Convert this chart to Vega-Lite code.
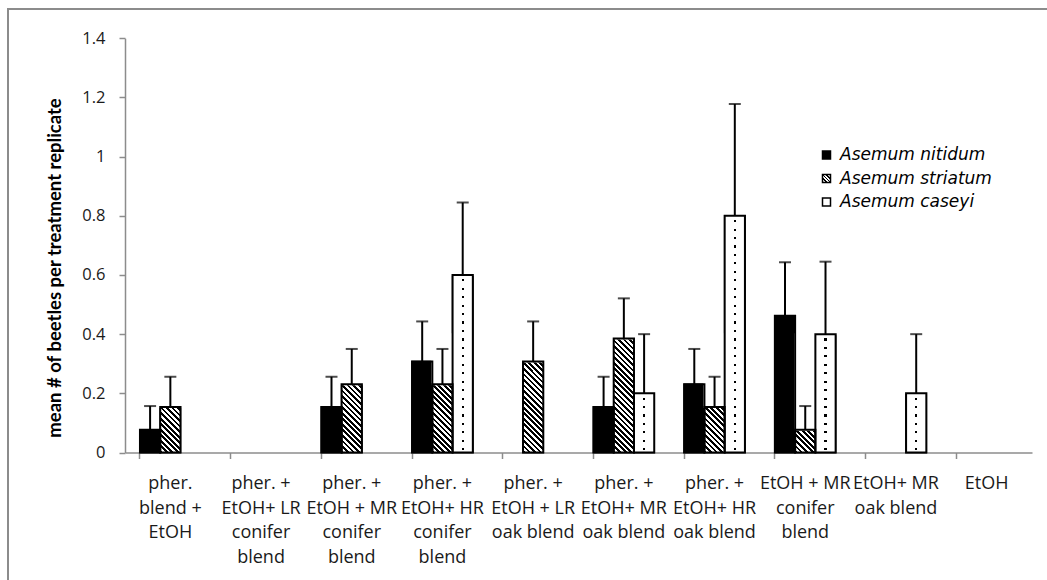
{
  "$schema": "https://vega.github.io/schema/vega-lite/v6.json",
  "width": 1051,
  "height": 583,
  "autosize": "none",
  "padding": {"left": 8, "top": 9, "right": -12, "bottom": -12},
  "background": "white",
  "config": {
    "font": "Open Sans",
    "view": {"stroke": "#8c8c8c", "strokeWidth": 2},
    "legend": {"orient": "none"}
  },
  "data": {
    "values": [
      {"cat": "pher.\nblend +\nEtOH", "species": "Asemum nitidum", "value": 0.077, "upper": 0.157},
      {"cat": "pher.\nblend +\nEtOH", "species": "Asemum striatum", "value": 0.154, "upper": 0.256},
      {"cat": "pher.\nblend +\nEtOH", "species": "Asemum caseyi", "value": 0, "upper": 0},
      {"cat": "pher. +\nEtOH+ LR\nconifer\nblend", "species": "Asemum nitidum", "value": 0, "upper": 0},
      {"cat": "pher. +\nEtOH+ LR\nconifer\nblend", "species": "Asemum striatum", "value": 0, "upper": 0},
      {"cat": "pher. +\nEtOH+ LR\nconifer\nblend", "species": "Asemum caseyi", "value": 0, "upper": 0},
      {"cat": "pher. +\nEtOH + MR\nconifer\nblend", "species": "Asemum nitidum", "value": 0.154, "upper": 0.256},
      {"cat": "pher. +\nEtOH + MR\nconifer\nblend", "species": "Asemum striatum", "value": 0.231, "upper": 0.35},
      {"cat": "pher. +\nEtOH + MR\nconifer\nblend", "species": "Asemum caseyi", "value": 0, "upper": 0},
      {"cat": "pher. +\nEtOH+ HR\nconifer\nblend", "species": "Asemum nitidum", "value": 0.308, "upper": 0.443},
      {"cat": "pher. +\nEtOH+ HR\nconifer\nblend", "species": "Asemum striatum", "value": 0.231, "upper": 0.35},
      {"cat": "pher. +\nEtOH+ HR\nconifer\nblend", "species": "Asemum caseyi", "value": 0.6, "upper": 0.845},
      {"cat": "pher. +\nEtOH + LR\noak blend", "species": "Asemum nitidum", "value": 0, "upper": 0},
      {"cat": "pher. +\nEtOH + LR\noak blend", "species": "Asemum striatum", "value": 0.308, "upper": 0.443},
      {"cat": "pher. +\nEtOH + LR\noak blend", "species": "Asemum caseyi", "value": 0, "upper": 0},
      {"cat": "pher. +\nEtOH+ MR\noak blend", "species": "Asemum nitidum", "value": 0.154, "upper": 0.256},
      {"cat": "pher. +\nEtOH+ MR\noak blend", "species": "Asemum striatum", "value": 0.385, "upper": 0.521},
      {"cat": "pher. +\nEtOH+ MR\noak blend", "species": "Asemum caseyi", "value": 0.2, "upper": 0.4},
      {"cat": "pher. +\nEtOH+ HR\noak blend", "species": "Asemum nitidum", "value": 0.231, "upper": 0.35},
      {"cat": "pher. +\nEtOH+ HR\noak blend", "species": "Asemum striatum", "value": 0.154, "upper": 0.256},
      {"cat": "pher. +\nEtOH+ HR\noak blend", "species": "Asemum caseyi", "value": 0.8, "upper": 1.178},
      {"cat": "EtOH + MR\nconifer\nblend", "species": "Asemum nitidum", "value": 0.462, "upper": 0.643},
      {"cat": "EtOH + MR\nconifer\nblend", "species": "Asemum striatum", "value": 0.077, "upper": 0.157},
      {"cat": "EtOH + MR\nconifer\nblend", "species": "Asemum caseyi", "value": 0.4, "upper": 0.645},
      {"cat": "EtOH+ MR\noak blend", "species": "Asemum nitidum", "value": 0, "upper": 0},
      {"cat": "EtOH+ MR\noak blend", "species": "Asemum striatum", "value": 0, "upper": 0},
      {"cat": "EtOH+ MR\noak blend", "species": "Asemum caseyi", "value": 0.2, "upper": 0.4},
      {"cat": "EtOH", "species": "Asemum nitidum", "value": 0, "upper": 0},
      {"cat": "EtOH", "species": "Asemum striatum", "value": 0, "upper": 0},
      {"cat": "EtOH", "species": "Asemum caseyi", "value": 0, "upper": 0}
    ]
  },
  "encoding": {
    "x": {
      "field": "cat",
      "type": "nominal",
      "sort": null,
      "scale": {
        "domain": ["pher.\nblend +\nEtOH", "pher. +\nEtOH+ LR\nconifer\nblend", "pher. +\nEtOH + MR\nconifer\nblend", "pher. +\nEtOH+ HR\nconifer\nblend", "pher. +\nEtOH + LR\noak blend", "pher. +\nEtOH+ MR\noak blend", "pher. +\nEtOH+ HR\noak blend", "EtOH + MR\nconifer\nblend", "EtOH+ MR\noak blend", "EtOH"],
        "range": [117, 1024],
        "paddingInner": 0.33,
        "paddingOuter": 0.165
      },
      "axis": {
        "title": null,
        "offset": -139.5,
        "bandPosition": 0,
        "labelAngle": 0,
        "labelAlign": "center",
        "labelBaseline": "top",
        "labelExpr": "split(datum.label, '\\n')",
        "labelFont": "Open Sans",
        "labelFontSize": 18,
        "labelLineHeight": 24.5,
        "labelColor": "#1a1a1a",
        "labelPadding": 16,
        "labelOverlap": false,
        "labelBound": false,
        "labelFlush": false,
        "domainColor": "#8c8c8c",
        "domainWidth": 1.5,
        "tickColor": "#8c8c8c",
        "tickWidth": 1.5,
        "tickSize": 6,
        "grid": false
      }
    },
    "xOffset": {
      "field": "species",
      "type": "nominal",
      "sort": null,
      "scale": {"domain": ["Asemum nitidum", "Asemum striatum", "Asemum caseyi"]}
    }
  },
  "layer": [
    {
      "transform": [{"filter": "datum.value > 0"}],
      "mark": {"type": "bar", "stroke": "black", "strokeWidth": 1.5},
      "encoding": {
        "y": {
          "field": "value",
          "type": "quantitative",
          "title": "mean # of beetles per treatment replicate",
          "scale": {"domain": [0, 1.4], "range": [443.5, 29.3], "nice": false},
          "axis": {
            "offset": -117,
            "values": [0, 0.2, 0.4, 0.6, 0.8, 1, 1.2, 1.4],
            "format": "~g",
            "labelFont": "Open Sans",
            "labelFontSize": 16.5,
            "labelColor": "#1a1a1a",
            "labelPadding": 14,
            "domainColor": "#8c8c8c",
            "domainWidth": 1.5,
            "tickColor": "#8c8c8c",
            "tickWidth": 1.5,
            "tickSize": 6,
            "grid": false,
            "titleFont": "Lato",
            "titleFontSize": 18.5,
            "titleFontWeight": "bold",
            "titleColor": "black",
            "titleAngle": 270,
            "titleAlign": "center",
            "titleBaseline": "middle",
            "titleX": -71,
            "titleY": 258.5
          }
        },
        "color": {
          "field": "species",
          "type": "nominal",
          "sort": null,
          "scale": {
            "domain": ["Asemum nitidum", "Asemum striatum", "Asemum caseyi"],
            "range": [
              "black",
              {"expr": "{gradient: 'linear', x1: 0, y1: 1, x2: 1, y2: 0, stops: [{offset: 0, color: 'white'}, {offset: 0.2, color: 'white'}, {offset: 0.2, color: 'black'}, {offset: 0.33, color: 'black'}, {offset: 0.33, color: 'white'}, {offset: 0.44, color: 'white'}, {offset: 0.44, color: 'black'}, {offset: 0.56, color: 'black'}, {offset: 0.56, color: 'white'}, {offset: 0.67, color: 'white'}, {offset: 0.67, color: 'black'}, {offset: 0.8, color: 'black'}, {offset: 0.8, color: 'white'}, {offset: 1, color: 'white'}]}"},
              "white"
            ]
          },
          "legend": {
            "title": null,
            "orient": "none",
            "legendX": 810,
            "legendY": 137.5,
            "padding": 0,
            "symbolType": "square",
            "symbolSize": 64,
            "symbolStrokeColor": "black",
            "symbolStrokeWidth": 1.5,
            "labelFont": "DejaVu Sans",
            "labelFontSize": 17,
            "labelFontStyle": "italic",
            "labelColor": "black",
            "labelOffset": 5,
            "rowPadding": 5.5
          }
        }
      }
    },
    {
      "transform": [{"filter": "datum.species === 'Asemum striatum' && datum.value > 0"}],
      "mark": {
        "type": "bar",
        "fill": {
          "gradient": "linear", "x1": 0, "y1": 1, "x2": 0.1949, "y2": -0.1379,
          "stops": [
            {"offset": 0, "color": "#000"}, {"offset": 0.02, "color": "#000"}, {"offset": 0.02, "color": "#fff"}, {"offset": 0.04, "color": "#fff"},
            {"offset": 0.04, "color": "#000"}, {"offset": 0.06, "color": "#000"}, {"offset": 0.06, "color": "#fff"}, {"offset": 0.08, "color": "#fff"},
            {"offset": 0.08, "color": "#000"}, {"offset": 0.1, "color": "#000"}, {"offset": 0.1, "color": "#fff"}, {"offset": 0.12, "color": "#fff"},
            {"offset": 0.12, "color": "#000"}, {"offset": 0.14, "color": "#000"}, {"offset": 0.14, "color": "#fff"}, {"offset": 0.16, "color": "#fff"},
            {"offset": 0.16, "color": "#000"}, {"offset": 0.18, "color": "#000"}, {"offset": 0.18, "color": "#fff"}, {"offset": 0.2, "color": "#fff"},
            {"offset": 0.2, "color": "#000"}, {"offset": 0.22, "color": "#000"}, {"offset": 0.22, "color": "#fff"}, {"offset": 0.24, "color": "#fff"},
            {"offset": 0.24, "color": "#000"}, {"offset": 0.26, "color": "#000"}, {"offset": 0.26, "color": "#fff"}, {"offset": 0.28, "color": "#fff"},
            {"offset": 0.28, "color": "#000"}, {"offset": 0.3, "color": "#000"}, {"offset": 0.3, "color": "#fff"}, {"offset": 0.32, "color": "#fff"},
            {"offset": 0.32, "color": "#000"}, {"offset": 0.34, "color": "#000"}, {"offset": 0.34, "color": "#fff"}, {"offset": 0.36, "color": "#fff"},
            {"offset": 0.36, "color": "#000"}, {"offset": 0.38, "color": "#000"}, {"offset": 0.38, "color": "#fff"}, {"offset": 0.4, "color": "#fff"},
            {"offset": 0.4, "color": "#000"}, {"offset": 0.42, "color": "#000"}, {"offset": 0.42, "color": "#fff"}, {"offset": 0.44, "color": "#fff"},
            {"offset": 0.44, "color": "#000"}, {"offset": 0.46, "color": "#000"}, {"offset": 0.46, "color": "#fff"}, {"offset": 0.48, "color": "#fff"},
            {"offset": 0.48, "color": "#000"}, {"offset": 0.5, "color": "#000"}, {"offset": 0.5, "color": "#fff"}, {"offset": 0.52, "color": "#fff"},
            {"offset": 0.52, "color": "#000"}, {"offset": 0.54, "color": "#000"}, {"offset": 0.54, "color": "#fff"}, {"offset": 0.56, "color": "#fff"},
            {"offset": 0.56, "color": "#000"}, {"offset": 0.58, "color": "#000"}, {"offset": 0.58, "color": "#fff"}, {"offset": 0.6, "color": "#fff"},
            {"offset": 0.6, "color": "#000"}, {"offset": 0.62, "color": "#000"}, {"offset": 0.62, "color": "#fff"}, {"offset": 0.64, "color": "#fff"},
            {"offset": 0.64, "color": "#000"}, {"offset": 0.66, "color": "#000"}, {"offset": 0.66, "color": "#fff"}, {"offset": 0.68, "color": "#fff"},
            {"offset": 0.68, "color": "#000"}, {"offset": 0.7, "color": "#000"}, {"offset": 0.7, "color": "#fff"}, {"offset": 0.72, "color": "#fff"},
            {"offset": 0.72, "color": "#000"}, {"offset": 0.74, "color": "#000"}, {"offset": 0.74, "color": "#fff"}, {"offset": 0.76, "color": "#fff"},
            {"offset": 0.76, "color": "#000"}, {"offset": 0.78, "color": "#000"}, {"offset": 0.78, "color": "#fff"}, {"offset": 0.8, "color": "#fff"},
            {"offset": 0.8, "color": "#000"}, {"offset": 0.82, "color": "#000"}, {"offset": 0.82, "color": "#fff"}, {"offset": 0.84, "color": "#fff"},
            {"offset": 0.84, "color": "#000"}, {"offset": 0.86, "color": "#000"}, {"offset": 0.86, "color": "#fff"}, {"offset": 0.88, "color": "#fff"},
            {"offset": 0.88, "color": "#000"}, {"offset": 0.9, "color": "#000"}, {"offset": 0.9, "color": "#fff"}, {"offset": 0.92, "color": "#fff"},
            {"offset": 0.92, "color": "#000"}, {"offset": 0.94, "color": "#000"}, {"offset": 0.94, "color": "#fff"}, {"offset": 0.96, "color": "#fff"},
            {"offset": 0.96, "color": "#000"}, {"offset": 0.98, "color": "#000"}, {"offset": 0.98, "color": "#fff"}, {"offset": 1, "color": "#fff"}
          ]
        }
      },
      "encoding": {
        "y": {"datum": 0.4, "type": "quantitative", "title": "mean # of beetles per treatment replicate"},
        "y2": {"datum": 0}
      }
    },
    {
      "transform": [{"filter": "datum.species === 'Asemum caseyi' && datum.value > 0"}],
      "mark": {
        "type": "bar",
        "fill": {
          "gradient": "linear", "x1": 0, "y1": 0, "x2": 0, "y2": 1,
          "stops": [
            {"offset": 0, "color": "#fff"},
            {"offset": 0.0179, "color": "#fff"}, {"offset": 0.0179, "color": "#000"}, {"offset": 0.0269, "color": "#000"}, {"offset": 0.0269, "color": "#fff"},
            {"offset": 0.0536, "color": "#fff"}, {"offset": 0.0536, "color": "#000"}, {"offset": 0.0626, "color": "#000"}, {"offset": 0.0626, "color": "#fff"},
            {"offset": 0.0893, "color": "#fff"}, {"offset": 0.0893, "color": "#000"}, {"offset": 0.0983, "color": "#000"}, {"offset": 0.0983, "color": "#fff"},
            {"offset": 0.125, "color": "#fff"}, {"offset": 0.125, "color": "#000"}, {"offset": 0.134, "color": "#000"}, {"offset": 0.134, "color": "#fff"},
            {"offset": 0.1607, "color": "#fff"}, {"offset": 0.1607, "color": "#000"}, {"offset": 0.1697, "color": "#000"}, {"offset": 0.1697, "color": "#fff"},
            {"offset": 0.1964, "color": "#fff"}, {"offset": 0.1964, "color": "#000"}, {"offset": 0.2054, "color": "#000"}, {"offset": 0.2054, "color": "#fff"},
            {"offset": 0.2321, "color": "#fff"}, {"offset": 0.2321, "color": "#000"}, {"offset": 0.2411, "color": "#000"}, {"offset": 0.2411, "color": "#fff"},
            {"offset": 0.2679, "color": "#fff"}, {"offset": 0.2679, "color": "#000"}, {"offset": 0.2769, "color": "#000"}, {"offset": 0.2769, "color": "#fff"},
            {"offset": 0.3036, "color": "#fff"}, {"offset": 0.3036, "color": "#000"}, {"offset": 0.3126, "color": "#000"}, {"offset": 0.3126, "color": "#fff"},
            {"offset": 0.3393, "color": "#fff"}, {"offset": 0.3393, "color": "#000"}, {"offset": 0.3483, "color": "#000"}, {"offset": 0.3483, "color": "#fff"},
            {"offset": 0.375, "color": "#fff"}, {"offset": 0.375, "color": "#000"}, {"offset": 0.384, "color": "#000"}, {"offset": 0.384, "color": "#fff"},
            {"offset": 0.4107, "color": "#fff"}, {"offset": 0.4107, "color": "#000"}, {"offset": 0.4197, "color": "#000"}, {"offset": 0.4197, "color": "#fff"},
            {"offset": 0.4464, "color": "#fff"}, {"offset": 0.4464, "color": "#000"}, {"offset": 0.4554, "color": "#000"}, {"offset": 0.4554, "color": "#fff"},
            {"offset": 0.4821, "color": "#fff"}, {"offset": 0.4821, "color": "#000"}, {"offset": 0.4911, "color": "#000"}, {"offset": 0.4911, "color": "#fff"},
            {"offset": 0.5179, "color": "#fff"}, {"offset": 0.5179, "color": "#000"}, {"offset": 0.5269, "color": "#000"}, {"offset": 0.5269, "color": "#fff"},
            {"offset": 0.5536, "color": "#fff"}, {"offset": 0.5536, "color": "#000"}, {"offset": 0.5626, "color": "#000"}, {"offset": 0.5626, "color": "#fff"},
            {"offset": 0.5893, "color": "#fff"}, {"offset": 0.5893, "color": "#000"}, {"offset": 0.5983, "color": "#000"}, {"offset": 0.5983, "color": "#fff"},
            {"offset": 0.625, "color": "#fff"}, {"offset": 0.625, "color": "#000"}, {"offset": 0.634, "color": "#000"}, {"offset": 0.634, "color": "#fff"},
            {"offset": 0.6607, "color": "#fff"}, {"offset": 0.6607, "color": "#000"}, {"offset": 0.6697, "color": "#000"}, {"offset": 0.6697, "color": "#fff"},
            {"offset": 0.6964, "color": "#fff"}, {"offset": 0.6964, "color": "#000"}, {"offset": 0.7054, "color": "#000"}, {"offset": 0.7054, "color": "#fff"},
            {"offset": 0.7321, "color": "#fff"}, {"offset": 0.7321, "color": "#000"}, {"offset": 0.7411, "color": "#000"}, {"offset": 0.7411, "color": "#fff"},
            {"offset": 0.7679, "color": "#fff"}, {"offset": 0.7679, "color": "#000"}, {"offset": 0.7769, "color": "#000"}, {"offset": 0.7769, "color": "#fff"},
            {"offset": 0.8036, "color": "#fff"}, {"offset": 0.8036, "color": "#000"}, {"offset": 0.8126, "color": "#000"}, {"offset": 0.8126, "color": "#fff"},
            {"offset": 0.8393, "color": "#fff"}, {"offset": 0.8393, "color": "#000"}, {"offset": 0.8483, "color": "#000"}, {"offset": 0.8483, "color": "#fff"},
            {"offset": 0.875, "color": "#fff"}, {"offset": 0.875, "color": "#000"}, {"offset": 0.884, "color": "#000"}, {"offset": 0.884, "color": "#fff"},
            {"offset": 0.9107, "color": "#fff"}, {"offset": 0.9107, "color": "#000"}, {"offset": 0.9197, "color": "#000"}, {"offset": 0.9197, "color": "#fff"},
            {"offset": 0.9464, "color": "#fff"}, {"offset": 0.9464, "color": "#000"}, {"offset": 0.9554, "color": "#000"}, {"offset": 0.9554, "color": "#fff"},
            {"offset": 0.9821, "color": "#fff"}, {"offset": 0.9821, "color": "#000"}, {"offset": 0.9911, "color": "#000"}, {"offset": 0.9911, "color": "#fff"},
            {"offset": 1, "color": "#fff"}
          ]
        }
      },
      "encoding": {
        "y": {"datum": 0.8, "type": "quantitative", "title": "mean # of beetles per treatment replicate"},
        "y2": {"datum": 0}
      }
    },
    {
      "transform": [{"filter": "datum.species === 'Asemum caseyi' && datum.value > 0"}],
      "mark": {
        "type": "bar",
        "fill": {
          "gradient": "linear", "x1": 0, "y1": 0, "x2": 1, "y2": 0,
          "stops": [
            {"offset": 0, "color": "#fff"}, {"offset": 0.45, "color": "#fff"},
            {"offset": 0.45, "color": "rgba(255,255,255,0)"}, {"offset": 0.55, "color": "rgba(255,255,255,0)"},
            {"offset": 0.55, "color": "#fff"}, {"offset": 1, "color": "#fff"}
          ]
        }
      },
      "encoding": {
        "y": {"datum": 0.8, "type": "quantitative", "title": "mean # of beetles per treatment replicate"},
        "y2": {"datum": 0}
      }
    },
    {
      "transform": [{"filter": "datum.species === 'Asemum striatum' && datum.value > 0"}],
      "mark": {"type": "bar", "fill": "white", "stroke": "white", "strokeWidth": 2},
      "encoding": {
        "y": {"field": "value", "type": "quantitative", "title": "mean # of beetles per treatment replicate"},
        "y2": {"datum": 0.4}
      }
    },
    {
      "transform": [{"filter": "datum.species === 'Asemum caseyi' && datum.value > 0"}],
      "mark": {"type": "bar", "fill": "white", "stroke": "white", "strokeWidth": 2},
      "encoding": {
        "y": {"field": "value", "type": "quantitative", "title": "mean # of beetles per treatment replicate"},
        "y2": {"datum": 0.8}
      }
    },
    {
      "transform": [{"filter": "datum.value > 0"}],
      "mark": {"type": "bar", "fillOpacity": 0, "stroke": "black", "strokeWidth": 2},
      "encoding": {
        "y": {"field": "value", "type": "quantitative", "title": "mean # of beetles per treatment replicate"}
      }
    },
    {
      "transform": [{"filter": "datum.value > 0"}],
      "mark": {"type": "rule", "color": "black", "strokeWidth": 2},
      "encoding": {
        "y": {"field": "value", "type": "quantitative", "title": "mean # of beetles per treatment replicate"},
        "y2": {"field": "upper"}
      }
    },
    {
      "transform": [{"filter": "datum.value > 0"}],
      "mark": {"type": "tick", "color": "black", "size": 12, "thickness": 2},
      "encoding": {
        "y": {"field": "upper", "type": "quantitative", "title": "mean # of beetles per treatment replicate"}
      }
    }
  ]
}
